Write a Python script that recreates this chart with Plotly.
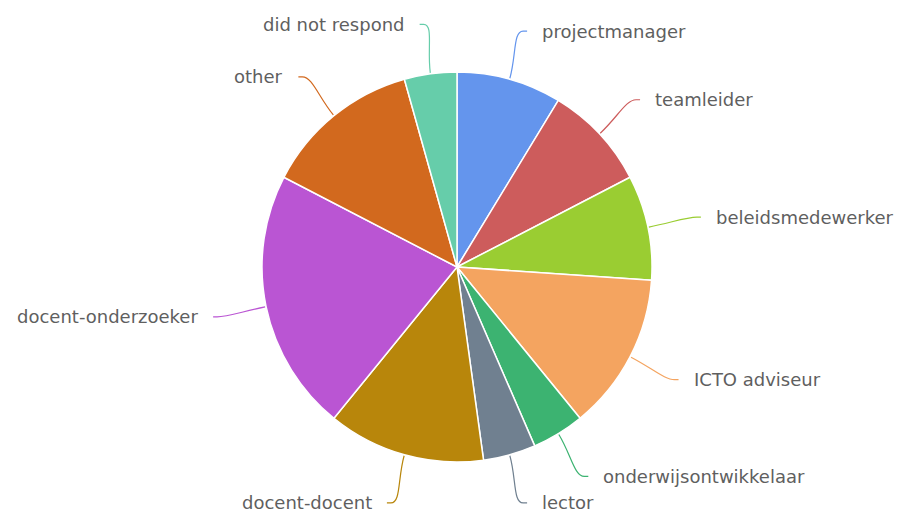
import math
import plotly.graph_objects as go

labels = ["projectmanager", "teamleider", "beleidsmedewerker", "ICTO adviseur",
          "onderwijsontwikkelaar", "lector", "docent-docent", "docent-onderzoeker",
          "other", "did not respond"]
counts = [2, 2, 2, 3, 1, 1, 3, 5, 3, 1]
colors = ["#6495ED", "#CD5C5C", "#9ACD32", "#F4A460", "#3CB371",
          "#708090", "#B8860B", "#BA55D3", "#D2691E", "#66CDAA"]

W, H = 897, 514
CX, CY, R = 457, 267, 195
R_LABEL = 245
GAP = 17

def px(x):
    return x / W

def py(y):
    return 1 - y / H

fig = go.Figure(go.Pie(
    labels=labels, values=counts, sort=False, direction="clockwise", rotation=0,
    marker=dict(colors=colors, line=dict(color="white", width=1.5)),
    textinfo="none", hoverinfo="label+value", showlegend=False,
    domain=dict(x=[px(CX - R), px(CX + R)], y=[py(CY + R), py(CY - R)]),
))

total = sum(counts)
cum = 0
shapes = []
annotations = []
for lab, v, col in zip(labels, counts, colors):
    mid = (cum + v / 2) / total * 2 * math.pi
    cum += v
    s, c = math.sin(mid), -math.cos(mid)
    ex, ey = CX + (R + 1) * s, CY + (R + 1) * c
    ax, ay = CX + R_LABEL * s, CY + R_LABEL * c
    right = s >= 0
    c1x, c1y = CX + (R + 25) * s, CY + (R + 25) * c
    c2x, c2y = ax + (-10 if right else 10), ay
    endx = ax + (4 if right else -4)
    path = (f"M {px(ex)},{py(ey)} C {px(c1x)},{py(c1y)} {px(c2x)},{py(c2y)} "
            f"{px(ax)},{py(ay)} L {px(endx)},{py(ay)}")
    shapes.append(dict(type="path", path=path, xref="paper", yref="paper",
                       line=dict(color=col, width=1.2)))
    annotations.append(dict(
        x=px(ax + (GAP if right else -GAP)), y=py(ay), xref="paper", yref="paper",
        text=lab, showarrow=False, xanchor="left" if right else "right",
        yanchor="middle", font=dict(family="DejaVu Sans", size=18, color="#5f5f5f")))

fig.update_layout(
    width=W, height=H, margin=dict(l=0, r=0, t=0, b=0),
    paper_bgcolor="white", plot_bgcolor="white",
    shapes=shapes, annotations=annotations,
)
fig.write_html("out.html")
